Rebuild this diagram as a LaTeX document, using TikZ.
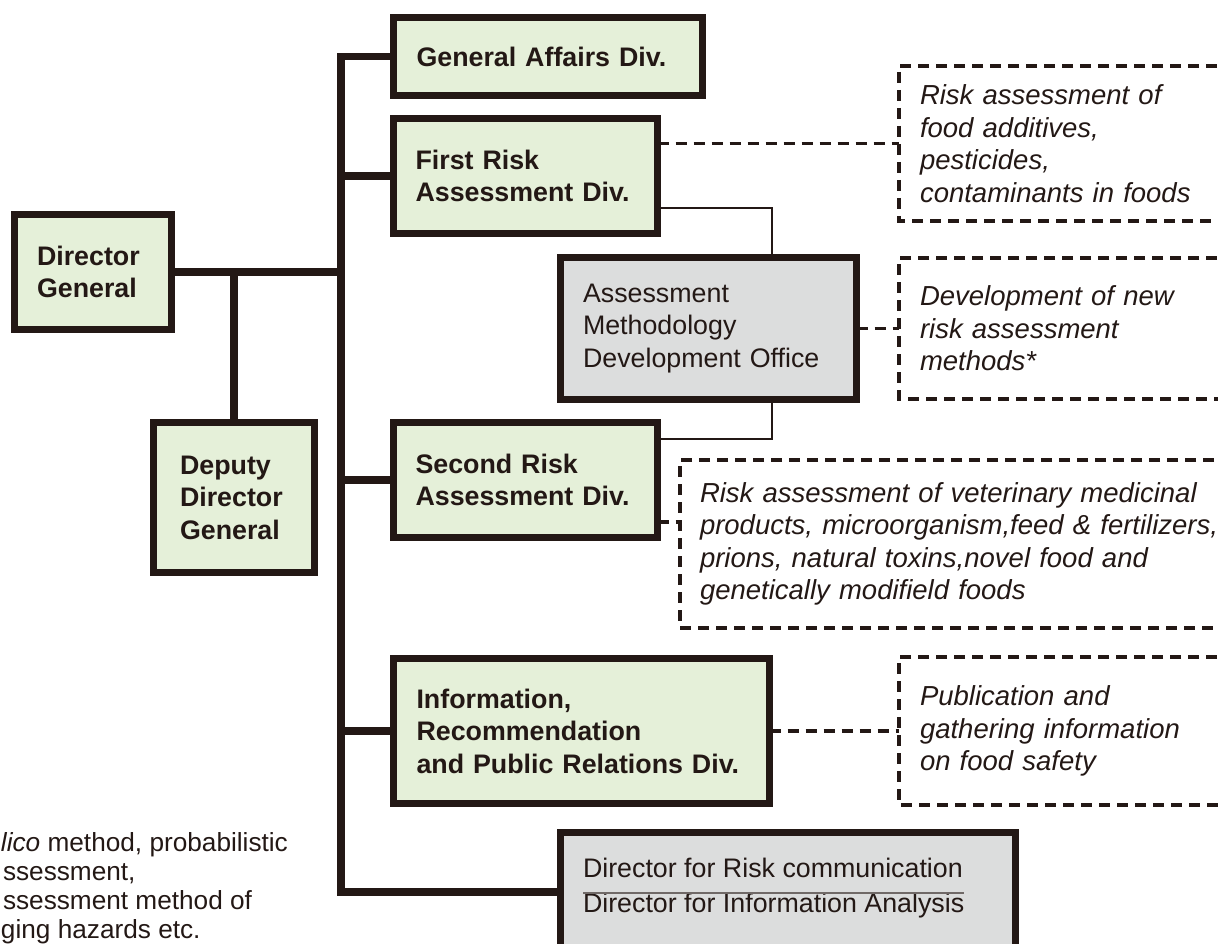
\documentclass[tikz,border=0pt]{standalone}
\usepackage{fontspec}
\setmainfont{Liberation Sans}
\usetikzlibrary{calc}
\definecolor{ink}{HTML}{231815}
\definecolor{boxgreen}{HTML}{E5F0D9}
\definecolor{boxgray}{HTML}{DCDDDD}
\begin{document}
\begin{tikzpicture}[x=1pt,y=-1pt,
  every node/.style={inner sep=0pt, outer sep=0pt, text=ink},
  unit/.style={draw=ink, line width=7pt, fill=boxgreen, anchor=north west, align=left,
    font=\fontsize{26.8}{32.5}\selectfont\bfseries, inner xsep=23pt, inner ysep=0pt},
  office/.style={unit, fill=boxgray, font=\fontsize{26.8}{32.5}\selectfont},
  note/.style={anchor=north west, align=left, font=\fontsize{27.5}{32.5}\selectfont\itshape, inner xsep=21pt},
  plain/.style={font=\fontsize{26.8}{32.5}\selectfont},
  foot/.style={font=\fontsize{26.2}{32}\selectfont, anchor=base west},
  conn/.style={draw=ink, line width=7.5pt},
  thinconn/.style={draw=ink, line width=1.3pt},
  dashconn/.style={draw=ink, line width=3.5pt, dash pattern=on 11pt off 7pt},
  sepline/.style={draw=ink!65, line width=1.2pt},
]
\useasboundingbox (0,0) rectangle (1218,944);
\clip (0,0) rectangle (1218,944);

% units
\node[unit, text width=263pt, minimum height=78pt] (ga) at (393.5,17.5) {General Affairs Div.};
\node[unit, inner xsep=22pt, text width=220pt, minimum height=115pt] (first) at (393.5,118.5) {First Risk\\Assessment Div.};
\node[office, inner xsep=22.5pt, text width=251pt, minimum height=142pt] (amdo) at (560.5,257.5) {Assessment\\Methodology\\Development Office};
\node[unit, inner xsep=22pt, text width=220pt, minimum height=115pt] (second) at (393.5,422.5) {Second Risk\\Assessment Div.};
\node[unit, text width=330pt, minimum height=145pt] (info) at (393.5,658.5) {Information,\\Recommendation\\and Public Relations Div.};
\node[unit, inner xsep=22.5pt, text width=112pt, minimum height=115pt] (dg) at (14.5,214.5) {Director\\General};
\node[unit, inner xsep=26.5pt, text width=108pt, minimum height=150pt] (dep) at (153.5,422.5) {Deputy\\Director\\General};
\node[office, minimum width=455pt, minimum height=140pt] (dirs) at (560.5,832.5) {};
\node[plain, anchor=base west] (rc) at ([xshift=22.5pt,yshift=-44.5pt]dirs.north west) {Director for Risk communication};
\node[plain, anchor=base west] (ia) at ([xshift=22.5pt,yshift=-80pt]dirs.north west) {Director for Information Analysis};
\coordinate (s1) at ([xshift=22.5pt,yshift=-60.5pt]dirs.north west);
\draw[sepline] (s1) -- (s1 -| ia.east);

% notes (dashed, open to the right)
\node[note, text width=330pt, minimum height=155pt] (n1) at (899,66) {Risk assessment of\\food additives,\\pesticides,\\contaminants in foods};
\node[note, text width=330pt, minimum height=141pt] (n2) at (899,258) {Development of new\\risk assessment\\methods*};
\node[note, inner xsep=20pt, text width=530pt, minimum height=168pt] (n3) at (680,460) {Risk assessment of veterinary medicinal\\products, microorganism,feed \& fertilizers,\\prions, natural toxins,novel food and\\genetically modifield foods};
\node[note, text width=330pt, minimum height=148pt] (n4) at (899,657) {Publication and\\gathering information\\on food safety};
\foreach \n in {n1,n2,n3,n4}
  \draw[dashconn] (\n.north east) -- (\n.north west) -- (\n.south west) -- (\n.south east);

% trunk and branches
\coordinate (tk) at (341,0);
\coordinate (bb) at ([yshift=-59.5pt]dirs.north west);
\draw[conn] (ga.west) -| (tk |- bb) -- (bb);
\draw[conn] (first.west) -- (first.west -| tk);
\draw[conn] (second.west) -- (second.west -| tk);
\draw[conn] (info.west) -- (info.west -| tk);
\draw[conn] (dg.east) -- (dg.east -| tk);
\draw[conn] (dg.east -| dep.north) -- (dep.north);

% thin links to the methodology office
\coordinate (t1) at ([yshift=25.5pt]first.south east);
\coordinate (tA) at ([xshift=211.5pt]amdo.north west);
\coordinate (tB) at ([xshift=211.5pt]amdo.south west);
\coordinate (t2) at ([yshift=-16.5pt]second.north east);
\draw[thinconn] (t1) -| (tA);
\draw[thinconn] (tB) |- (t2);

% dashed links to notes
\draw[dashconn] (n1.west -| first.east) -- (n1.west);
\draw[dashconn] (amdo.east) -- (amdo.east -| n2.west);
\coordinate (c3) at ([yshift=15.5pt]second.south east);
\draw[dashconn] (c3) -- (c3 -| n3.west);
\draw[dashconn] (info.east) -- (info.east -| n4.west);

% footnote (cut off at the left edge in the original)
\node[foot] (f1) at (1,851) {\textit{lico} method, probabilistic};
\node[foot] (f2) at (3,880) {ssessment,};
\node[foot] (f3) at (3,909) {ssessment method of};
\node[foot] (f4) at (1,938) {ging hazards etc.};
\end{tikzpicture}
\end{document}
